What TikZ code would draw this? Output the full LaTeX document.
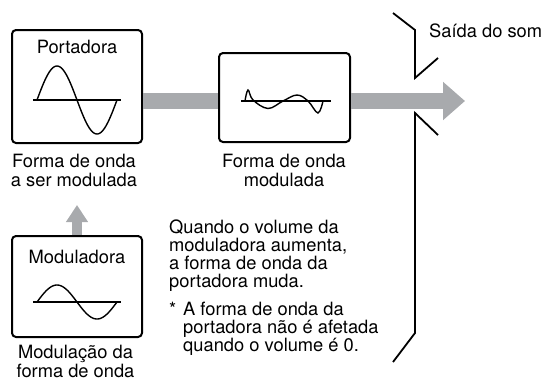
\documentclass[tikz,border=0pt]{standalone}
\usepackage{fontspec}
\setmainfont{TeX Gyre Heros}
\usetikzlibrary{arrows.meta}
\definecolor{barcol}{RGB}{168,170,173}
\begin{document}
\begin{tikzpicture}[x=1pt,y=-1pt,
  wbox/.style={draw=black,line width=2pt,rounded corners=4pt,inner sep=0pt},
  txt/.style={inner sep=0pt,font=\fontsize{18.3}{19}\selectfont},
  para/.style={inner sep=0pt,align=left,font=\fontsize{18.3}{18}\selectfont},
  captxt/.style={inner sep=0pt,align=center,font=\fontsize{18.3}{18.5}\selectfont},
  bar/.style={draw=barcol,line width=16pt},
  wave/.style={line width=1.4pt},
  spk/.style={line width=1.8pt,line join=miter}]
\useasboundingbox (0,0) rectangle (543,381);
% boxes
\node[wbox,minimum width=130pt,minimum height=113pt] (port) at (77,86.5) {};
\node[wbox,minimum width=131pt,minimum height=89pt] (modw) at (284.5,97.5) {};
\node[wbox,minimum width=130pt,minimum height=101pt] (modl) at (77,286.5) {};
% box titles
\node[txt,anchor=base] (tport) at (77,53) {Portadora};
\node[txt,anchor=base] (tmodl) at (77,263) {Moduladora};
% gray arrows
\coordinate (a1) at (143,101);
\coordinate (a2) at (218,101);
\coordinate (a3) at (351,101);
\coordinate (out) at (465,101);
\draw[bar] (a1) -- (a2);
\draw[bar,-{Triangle[width=37pt,length=22pt]}] (a3) -- (out);
\coordinate (u1) at (77,235);
\coordinate (u2) at (77,205);
\draw[draw=barcol,line width=10pt,-{Triangle[width=21pt,length=17pt]}] (u1) -- (u2);
% carrier wave
\draw[wave] (33,100) -- (121,100);
\draw[wave] plot[domain=0:360,samples=80,smooth] ({37+\x/4.5},{100-34*sin(\x)});
% modulator wave
\draw[wave] (33,302) -- (121,302);
\draw[wave] plot[domain=0:360,samples=80,smooth] ({37+\x/4.5},{302-17*sin(\x)});
% modulated wave
\draw[wave] (241,101) -- (331,101);
\draw[wave] plot[smooth,tension=0.6] coordinates {(245,101) (248,90) (253,100) (268,108.5) (283,101) (297,95) (308,101) (318,113) (323,101)};
% speaker
\draw[spk] (393,13) -- (415,30) -- (415,78) -- (438,58);
\draw[spk] (438,135) -- (415,113) -- (415,333) -- (393,362);
% labels (base anchor = baseline of last line)
\node[txt,anchor=base west] (sai) at (429,37.5) {Saída do som};
\node[captxt,anchor=base] (c1) at (74,186) {Forma de onda\\a ser modulada};
\node[captxt,anchor=base] (c2) at (284,186) {Forma de onda\\modulada};
\node[captxt,anchor=base] (c3) at (75.5,377) {Modulação da\\forma de onda};
\node[para,anchor=base west] (p1) at (169,287) {Quando o volume da\\moduladora aumenta,\\a forma de onda da\\portadora muda.};
\node[txt,anchor=base west] (ast) at (169,315) {*};
\node[para,anchor=base west] (p2) at (183,351) {A forma de onda da\\portadora não é afetada\\quando o volume é 0.};
\end{tikzpicture}
\end{document}
